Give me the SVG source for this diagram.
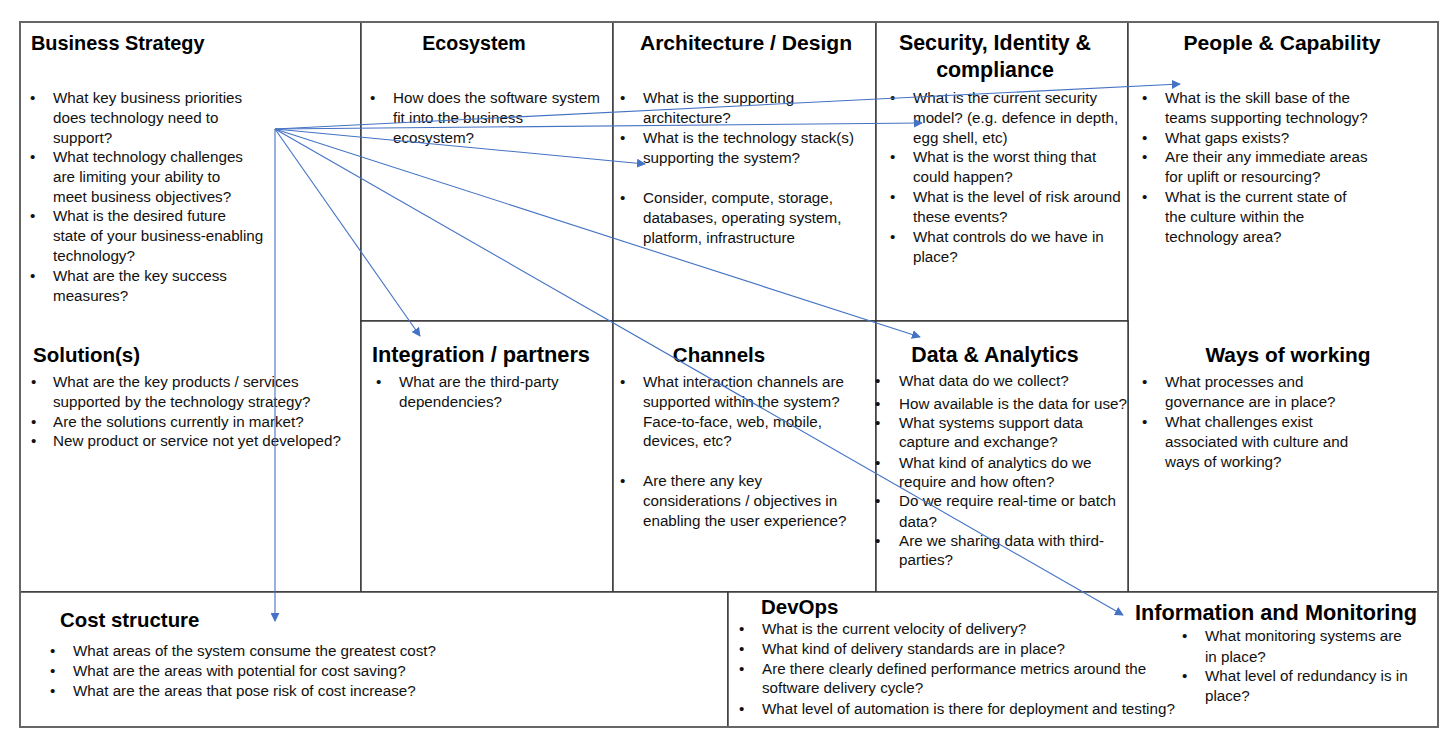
<svg xmlns="http://www.w3.org/2000/svg" width="1452" height="752" viewBox="0 0 1452 752">
<style>
.cell{fill:#fff;stroke:#333;stroke-width:1.4}
.t{font-family:"Liberation Sans",Arial,sans-serif;font-weight:bold;fill:#000}
.b{font-family:"Liberation Sans",Arial,sans-serif;font-size:15.2px;fill:#111}
.c{stroke:#4472C4;stroke-width:1.1;fill:none;marker-end:url(#ah)}
</style>
<defs>
<marker id="ah" viewBox="0 0 10 10" refX="9" refY="5" markerWidth="9" markerHeight="9" markerUnits="userSpaceOnUse" orient="auto">
<path d="M0,0 L10,5 L0,10 z" fill="#4472C4"/>
</marker>
</defs>
<rect x="0" y="0" width="1452" height="752" fill="#fff"/>

<g id="business-strategy">
<rect class="cell" x="20" y="22" width="341" height="570"/>
<text class="t" x="31" y="50" font-size="19.9">Business Strategy</text>
<text class="b"><tspan x="30" y="103">•</tspan><tspan x="53" y="103">What key business priorities</tspan><tspan x="53" y="123">does technology need to</tspan><tspan x="53" y="143">support?</tspan><tspan x="30" y="162">•</tspan><tspan x="53" y="162">What technology challenges</tspan><tspan x="53" y="182">are limiting your ability to</tspan><tspan x="53" y="202">meet business objectives?</tspan><tspan x="30" y="221">•</tspan><tspan x="53" y="221">What is the desired future</tspan><tspan x="53" y="241">state of your business-enabling</tspan><tspan x="53" y="261">technology?</tspan><tspan x="30" y="281">•</tspan><tspan x="53" y="281">What are the key success</tspan><tspan x="53" y="301">measures?</tspan></text>
</g>

<g id="solutions">
<text class="t" x="33" y="362" font-size="20.5">Solution(s)</text>
<text class="b"><tspan x="31" y="387">•</tspan><tspan x="53" y="387">What are the key products / services</tspan><tspan x="53" y="407">supported by the technology strategy?</tspan><tspan x="31" y="427">•</tspan><tspan x="53" y="427">Are the solutions currently in market?</tspan><tspan x="31" y="446">•</tspan><tspan x="53" y="446">New product or service not yet developed?</tspan></text>
</g>

<g id="ecosystem">
<rect class="cell" x="361" y="22" width="252" height="299"/>
<text class="t" x="474" y="50" text-anchor="middle" font-size="19.6">Ecosystem</text>
<text class="b"><tspan x="370" y="103">•</tspan><tspan x="393" y="103">How does the software system</tspan><tspan x="393" y="123">fit into the business</tspan><tspan x="393" y="143">ecosystem?</tspan></text>
</g>

<g id="architecture">
<rect class="cell" x="613" y="22" width="263" height="299"/>
<text class="t" x="746" y="50" text-anchor="middle" font-size="21.1">Architecture / Design</text>
<text class="b"><tspan x="620" y="103">•</tspan><tspan x="643" y="103">What is the supporting</tspan><tspan x="643" y="123">architecture?</tspan><tspan x="620" y="143">•</tspan><tspan x="643" y="143">What is the technology stack(s)</tspan><tspan x="643" y="163">supporting the system?</tspan><tspan x="620" y="203">•</tspan><tspan x="643" y="203">Consider, compute, storage,</tspan><tspan x="643" y="223">databases, operating system,</tspan><tspan x="643" y="243">platform, infrastructure</tspan></text>
</g>

<g id="security">
<rect class="cell" x="876" y="22" width="252" height="299"/>
<text class="t" text-anchor="middle" font-size="21.4"><tspan x="995" y="50">Security, Identity &amp;</tspan><tspan x="995" y="77">compliance</tspan></text>
<text class="b"><tspan x="890" y="103">•</tspan><tspan x="913" y="103">What is the current security</tspan><tspan x="913" y="123">model? (e.g. defence in depth,</tspan><tspan x="913" y="143">egg shell, etc)</tspan><tspan x="890" y="162">•</tspan><tspan x="913" y="162">What is the worst thing that</tspan><tspan x="913" y="182">could happen?</tspan><tspan x="890" y="202">•</tspan><tspan x="913" y="202">What is the level of risk around</tspan><tspan x="913" y="222">these events?</tspan><tspan x="890" y="242">•</tspan><tspan x="913" y="242">What controls do we have in</tspan><tspan x="913" y="262">place?</tspan></text>
</g>

<g id="people-capability">
<rect class="cell" x="1128" y="22" width="310" height="570"/>
<text class="t" x="1282" y="50" text-anchor="middle" font-size="21.1">People &amp; Capability</text>
<text class="b"><tspan x="1142" y="103">•</tspan><tspan x="1165" y="103">What is the skill base of the</tspan><tspan x="1165" y="123">teams supporting technology?</tspan><tspan x="1142" y="143">•</tspan><tspan x="1165" y="143">What gaps exists?</tspan><tspan x="1142" y="162">•</tspan><tspan x="1165" y="162">Are their any immediate areas</tspan><tspan x="1165" y="182">for uplift or resourcing?</tspan><tspan x="1142" y="202">•</tspan><tspan x="1165" y="202">What is the current state of</tspan><tspan x="1165" y="222">the culture within the</tspan><tspan x="1165" y="242">technology area?</tspan></text>
</g>

<g id="ways-of-working">
<text class="t" x="1288" y="362" text-anchor="middle" font-size="20.9">Ways of working</text>
<text class="b"><tspan x="1142" y="387">•</tspan><tspan x="1165" y="387">What processes and</tspan><tspan x="1165" y="407">governance are in place?</tspan><tspan x="1142" y="427">•</tspan><tspan x="1165" y="427">What challenges exist</tspan><tspan x="1165" y="447">associated with culture and</tspan><tspan x="1165" y="467">ways of working?</tspan></text>
</g>

<g id="integration">
<rect class="cell" x="361" y="321" width="252" height="271"/>
<text class="t" x="481" y="362" text-anchor="middle" font-size="21.8">Integration / partners</text>
<text class="b"><tspan x="376" y="387">•</tspan><tspan x="399" y="387">What are the third-party</tspan><tspan x="399" y="407">dependencies?</tspan></text>
</g>

<g id="channels">
<rect class="cell" x="613" y="321" width="263" height="271"/>
<text class="t" x="719" y="362" text-anchor="middle" font-size="20.5">Channels</text>
<text class="b"><tspan x="620" y="387">•</tspan><tspan x="643" y="387">What interaction channels are</tspan><tspan x="643" y="407">supported within the system?</tspan><tspan x="643" y="427">Face-to-face, web, mobile,</tspan><tspan x="643" y="446">devices, etc?</tspan><tspan x="620" y="486">•</tspan><tspan x="643" y="486">Are there any key</tspan><tspan x="643" y="506">considerations / objectives in</tspan><tspan x="643" y="526">enabling the user experience?</tspan></text>
</g>

<g id="data-analytics">
<rect class="cell" x="876" y="321" width="252" height="271"/>
<text class="t" x="995" y="362" text-anchor="middle" font-size="21.3">Data &amp; Analytics</text>
<text class="b"><tspan x="875" y="386">•</tspan><tspan x="899" y="386">What data do we collect?</tspan><tspan x="875" y="409">•</tspan><tspan x="899" y="409">How available is the data for use?</tspan><tspan x="875" y="428">•</tspan><tspan x="899" y="428">What systems support data</tspan><tspan x="899" y="447">capture and exchange?</tspan><tspan x="875" y="468">•</tspan><tspan x="899" y="468">What kind of analytics do we</tspan><tspan x="899" y="487">require and how often?</tspan><tspan x="875" y="506">•</tspan><tspan x="899" y="506">Do we require real-time or batch</tspan><tspan x="899" y="527">data?</tspan><tspan x="875" y="546">•</tspan><tspan x="899" y="546">Are we sharing data with third-</tspan><tspan x="899" y="565">parties?</tspan></text>
</g>

<g id="cost-structure">
<rect class="cell" x="20" y="592" width="708" height="135"/>
<text class="t" x="60" y="627" font-size="20.4">Cost structure</text>
<text class="b"><tspan x="50" y="656">•</tspan><tspan x="73" y="656">What areas of the system consume the greatest cost?</tspan><tspan x="50" y="676">•</tspan><tspan x="73" y="676">What are the areas with potential for cost saving?</tspan><tspan x="50" y="696">•</tspan><tspan x="73" y="696">What are the areas that pose risk of cost increase?</tspan></text>
</g>

<g id="devops">
<rect class="cell" x="728" y="592" width="710" height="135"/>
<text class="t" x="761" y="614" font-size="20.5">DevOps</text>
<text class="b"><tspan x="739" y="634">•</tspan><tspan x="762" y="634">What is the current velocity of delivery?</tspan><tspan x="739" y="654">•</tspan><tspan x="762" y="654">What kind of delivery standards are in place?</tspan><tspan x="739" y="674">•</tspan><tspan x="762" y="674">Are there clearly defined performance metrics around the</tspan><tspan x="762" y="693">software delivery cycle?</tspan><tspan x="739" y="714">•</tspan><tspan x="762" y="714">What level of automation is there for deployment and testing?</tspan></text>
</g>

<g id="information-monitoring">
<text class="t" x="1135" y="620" font-size="21.7">Information and Monitoring</text>
<text class="b"><tspan x="1182" y="641">•</tspan><tspan x="1205" y="641">What monitoring systems are</tspan><tspan x="1205" y="662">in place?</tspan><tspan x="1182" y="681">•</tspan><tspan x="1205" y="681">What level of redundancy is in</tspan><tspan x="1205" y="701">place?</tspan></text>
</g>

<rect x="20" y="22" width="1418" height="705" fill="none" stroke="#666" stroke-width="2"/>

<g id="connectors">
<line class="c" x1="275" y1="129" x2="1180" y2="84"/>
<line class="c" x1="275" y1="129" x2="922" y2="123"/>
<line class="c" x1="275" y1="129" x2="645" y2="164"/>
<line class="c" x1="275" y1="129" x2="420" y2="336"/>
<line class="c" x1="275" y1="129" x2="920" y2="337"/>
<line class="c" x1="275" y1="129" x2="1123" y2="615"/>
<line class="c" x1="275" y1="129" x2="275" y2="621"/>
</g>
</svg>
